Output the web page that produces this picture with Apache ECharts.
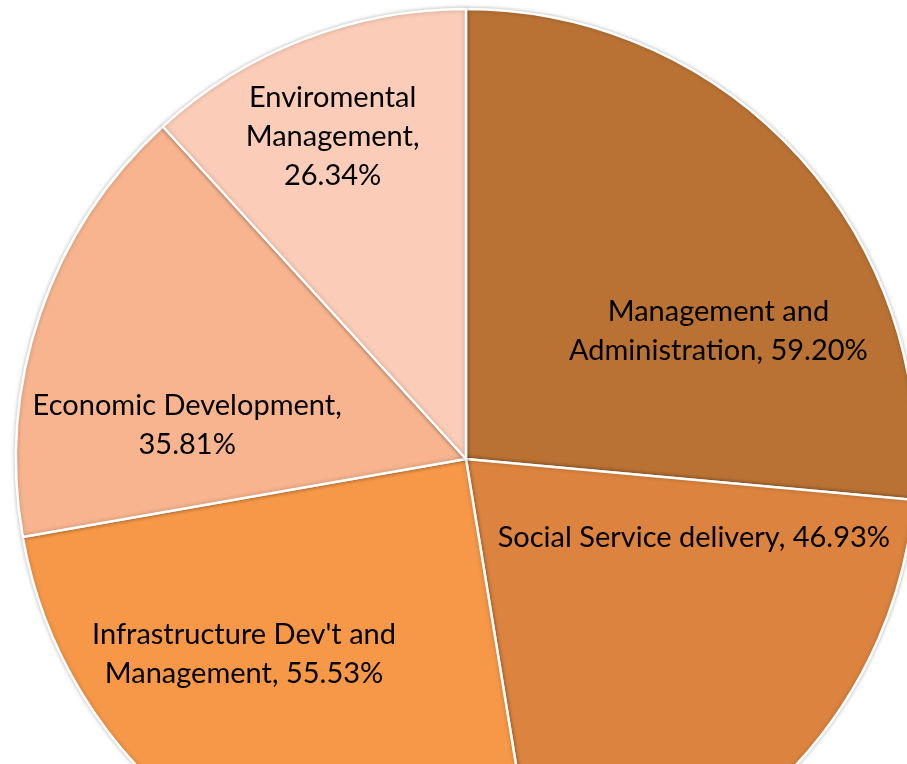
<!DOCTYPE html>
<html>
<head>
<meta charset="utf-8">
<script src="https://cdn.jsdelivr.net/npm/echarts@6/dist/echarts.min.js"></script>
<style>html,body{margin:0;padding:0;background:#fff;}#c{width:907px;height:764px;}</style>
</head>
<body>
<div id="c"></div>
<script>
const categories = ["Management and Administration", "Social Service delivery", "Infrastructure Dev't and Management", "Economic Development", "Enviromental Management"];
const values = [59.20, 46.93, 55.53, 35.81, 26.34];
const labelTemplates = [
  "Management and\nAdministration, {v}%",
  "Social Service delivery, {v}%",
  "Infrastructure Dev't and\nManagement, {v}%",
  "Economic Development,\n{v}%",
  "Enviromental\nManagement,\n{v}%"
];
const colors = ["#B97234", "#DC843F", "#F69848", "#F7B48E", "#FBCDB8"];
const labelShift = [[84, 26], [61, -77], [-90, 9], [-63, 40], [-51, -110]];

const chart = echarts.init(document.getElementById('c'));
chart.setOption({
  animation: false,
  series: [{
    type: 'pie',
    center: [466, 459],
    radius: [0, 450],
    startAngle: 90,
    clockwise: true,
    data: categories.map((n, i) => ({ name: n, value: values[i], itemStyle: { color: colors[i] } })),
    itemStyle: { borderColor: '#fff', borderWidth: 2.5, shadowBlur: 4, shadowColor: 'rgba(0,0,0,0.25)' },
    label: {
      show: true,
      position: 'inside',
      color: '#000',
      fontFamily: 'Lato',
      fontSize: 29,
      lineHeight: 39,
      align: 'center',
      formatter: p => labelTemplates[p.dataIndex].replace('{v}', p.value.toFixed(2))
    },
    labelLine: { show: false },
    labelLayout: p => ({ dx: labelShift[p.dataIndex][0], dy: labelShift[p.dataIndex][1] })
  }]
});
</script>
</body>
</html>
